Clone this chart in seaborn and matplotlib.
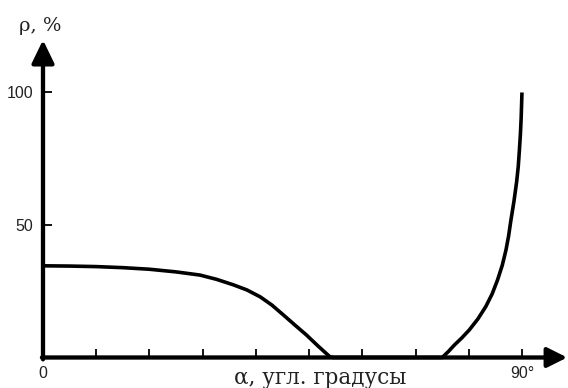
import matplotlib
matplotlib.use("Agg")
import matplotlib.pyplot as plt
import seaborn as sns
import pandas as pd

# Data
alpha = [0, 5, 10, 15, 20, 25, 29.5, 32.6, 35.8, 38.3, 40.8, 43.0, 45.2,
         47.3, 49.5, 51.7, 53.9, 54.5,
         75.0, 76.2, 77.3, 78.7, 80.1, 81.7, 83.2, 84.4, 85.4, 86.3, 87.0,
         87.5, 87.9, 88.5, 89.0, 89.3, 89.5, 89.7, 89.85, 90]
rho = [34.6, 34.5, 34.3, 33.9, 33.3, 32.3, 31.1, 29.5, 27.4, 25.5, 22.9, 19.8, 16.0,
       12.3, 8.5, 4.3, 0.3, 0,
       0, 2.3, 4.7, 7.4, 10.4, 14.5, 19.2, 24.0, 29.2, 34.8, 40.6,
       46.0, 51.5, 59.0, 66.3, 72.0, 77.7, 84.0, 90.4, 100]

x_ticks = [0, 10, 20, 30, 40, 50, 60, 70, 80, 90]
x_tick_labels = ["0", "", "", "", "", "", "", "", "", "90°"]
y_ticks = [50, 100]
y_tick_labels = ["50", "100"]
x_label = "α, угл. градусы"
y_label = "ρ, %"

sns.set_style("white")
plt.rcParams["font.family"] = ["Liberation Sans", "DejaVu Sans"]

fig = plt.figure(figsize=(5.68, 3.88), dpi=100)
ax = fig.add_axes([43 / 568, (388 - 357.5) / 388, 524.2 / 568, 317.5 / 388])

df = pd.DataFrame({"alpha": alpha, "rho": rho})
sns.lineplot(data=df, x="alpha", y="rho", ax=ax, color="black", lw=2.6,
             sort=False, estimator=None, clip_on=False,
             solid_joinstyle="round", solid_capstyle="butt")

ax.set_xlim(0, 98.5)
ax.set_ylim(0, 119.8)
for s in ax.spines.values():
    s.set_visible(False)

x_arrow = dict(arrowstyle="-|>,head_length=1.2,head_width=0.6", lw=3.1,
               color="black", shrinkA=0, shrinkB=0, mutation_scale=10)
y_arrow = dict(arrowstyle="-|>,head_length=1.4,head_width=0.68", lw=3.1,
               color="black", shrinkA=0, shrinkB=0, mutation_scale=10)
ax.annotate("", xy=(98.5, 0), xytext=(-0.2, 0), arrowprops=x_arrow,
            annotation_clip=False)
ax.annotate("", xy=(0, 119.8), xytext=(0, -0.7), arrowprops=y_arrow,
            annotation_clip=False)

ax.set_xticks(x_ticks)
ax.set_xticklabels(x_tick_labels)
ax.set_yticks(y_ticks)
ax.set_yticklabels(y_tick_labels)
ax.tick_params(axis="x", bottom=True, direction="in", length=6.5, width=1.3,
               pad=6, labelsize=11.5, colors="black", labelcolor="#222222")
ax.tick_params(axis="y", left=True, direction="in", length=6.5, width=1.3,
               pad=7, labelsize=11.5, colors="black", labelcolor="#222222")
ax.set_xlabel("")
ax.set_ylabel("")

fig.text(320 / 568, 1 - 384 / 388, x_label, ha="center", va="baseline",
         fontsize=15.5, family=["DejaVu Serif"], color="#222222")
fig.text(40 / 568, 1 - 31 / 388, y_label, ha="center", va="baseline",
         fontsize=14, family=["DejaVu Serif"], color="#222222")

fig.savefig("out.png", dpi=100)
